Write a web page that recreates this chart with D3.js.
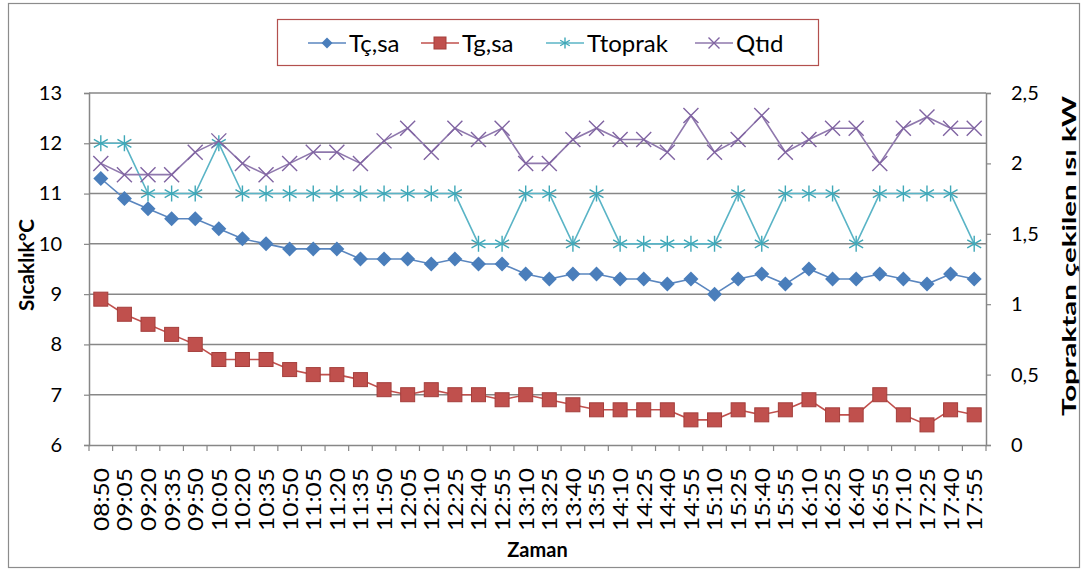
<!DOCTYPE html>
<html>
<head>
<meta charset="utf-8">
<script src="https://cdn.jsdelivr.net/npm/d3@7"></script>
<style>
  body { margin: 0; background: #fff; }
  text { font-family: Lato, "Open Sans", sans-serif; fill: #000; }
</style>
</head>
<body>
<script>
// ===============================
// DATA
// ===============================
const times = ["08:50","09:05","09:20","09:35","09:50","10:05","10:20","10:35","10:50","11:05",
  "11:20","11:35","11:50","12:05","12:10","12:25","12:40","12:55","13:10","13:25",
  "13:40","13:55","14:10","14:25","14:40","14:55","15:10","15:25","15:40","15:55",
  "16:10","16:25","16:40","16:55","17:10","17:25","17:40","17:55"];

const tcsa = [11.3,10.9,10.7,10.5,10.5,10.3,10.1,10.0,9.9,9.9,
  9.9,9.7,9.7,9.7,9.6,9.7,9.6,9.6,9.4,9.3,
  9.4,9.4,9.3,9.3,9.2,9.3,9.0,9.3,9.4,9.2,
  9.5,9.3,9.3,9.4,9.3,9.2,9.4,9.3];

const tgsa = [8.9,8.6,8.4,8.2,8.0,7.7,7.7,7.7,7.5,7.4,
  7.4,7.3,7.1,7.0,7.1,7.0,7.0,6.9,7.0,6.9,
  6.8,6.7,6.7,6.7,6.7,6.5,6.5,6.7,6.6,6.7,
  6.9,6.6,6.6,7.0,6.6,6.4,6.7,6.6];

const ttoprak = [12,12,11,11,11,12,11,11,11,11,
  11,11,11,11,11,11,10,10,11,11,
  10,11,10,10,10,10,10,11,10,11,
  11,11,10,11,11,11,11,10];

const qtid = [2.0,1.92,1.92,1.92,2.08,2.16,2.0,1.92,2.0,2.08,
  2.08,2.0,2.16,2.25,2.08,2.25,2.17,2.25,2.0,2.0,
  2.17,2.25,2.17,2.17,2.08,2.34,2.08,2.17,2.34,2.08,
  2.17,2.25,2.25,2.0,2.25,2.33,2.25,2.25];

const leftTicks = [6, 7, 8, 9, 10, 11, 12, 13];
const rightTicks = [0, 0.5, 1, 1.5, 2, 2.5];

const seriesNames = ["Tç,sa", "Tg,sa", "Ttoprak", "Qtıd"];

// ===============================
// CONFIG
// ===============================
const width = 1086;
const height = 572;
const plot = { left: 89, right: 986, top: 93, bottom: 445 };
const gridColor = "#878787";

const svg = d3.select("body").append("svg")
  .attr("width", width)
  .attr("height", height);

// cadre extérieur
svg.append("rect")
  .attr("x", 8.5).attr("y", 3.5)
  .attr("width", 1071).attr("height", 564)
  .attr("fill", "#fff")
  .attr("stroke", "#8c8c8c")
  .attr("stroke-width", 1.2);

// ===============================
// SCALES
// ===============================
const x = d3.scaleBand()
  .domain(times)
  .range([plot.left, plot.right]);

const yLeft = d3.scaleLinear()
  .domain([6, 13])
  .range([plot.bottom, plot.top]);

const yRight = d3.scaleLinear()
  .domain([0, 2.5])
  .range([plot.bottom, plot.top]);

const cx = d => x(d) + x.bandwidth() / 2;

// ===============================
// GRID + AXES
// ===============================
svg.append("g")
  .selectAll("line")
  .data(leftTicks.slice(1))
  .join("line")
  .attr("x1", plot.left).attr("x2", plot.right)
  .attr("y1", d => yLeft(d)).attr("y2", d => yLeft(d))
  .attr("stroke", gridColor)
  .attr("stroke-width", 1.5);

const axisLeft = svg.append("g")
  .attr("transform", `translate(${plot.left},0)`)
  .call(d3.axisLeft(yLeft).tickValues(leftTicks).tickSize(5).tickPadding(22)
    .tickFormat(d3.format("d")));

const axisRight = svg.append("g")
  .attr("transform", `translate(${plot.right},0)`)
  .call(d3.axisRight(yRight).tickValues(rightTicks).tickSize(5).tickPadding(20)
    .tickFormat(d => String(d).replace(".", ",")));

const axisBottom = svg.append("g")
  .attr("transform", `translate(0,${plot.bottom})`)
  .call(d3.axisBottom(x).tickSize(0).tickFormat(""));

[axisLeft, axisRight, axisBottom].forEach(g => {
  g.select(".domain").attr("stroke", gridColor).attr("stroke-width", 1.5);
  g.selectAll(".tick line").attr("stroke", gridColor).attr("stroke-width", 1.2);
  g.selectAll("text").style("font-size", "20px").attr("fill", "#000");
});

// ticks de catégories (entre les bandes)
svg.append("g")
  .selectAll("line")
  .data(d3.range(times.length + 1))
  .join("line")
  .attr("x1", i => plot.left + i * x.step())
  .attr("x2", i => plot.left + i * x.step())
  .attr("y1", plot.bottom)
  .attr("y2", plot.bottom + 6)
  .attr("stroke", gridColor)
  .attr("stroke-width", 1.2);

// labels horaires verticaux
svg.append("g")
  .selectAll("text")
  .data(times)
  .join("text")
  .attr("transform", d => `translate(${cx(d)},${plot.bottom + 23}) rotate(-90)`)
  .attr("text-anchor", "end")
  .attr("dy", "0.36em")
  .style("font-size", "22px")
  .attr("textLength", 63)
  .attr("lengthAdjust", "spacingAndGlyphs")
  .text(d => d);

// titres d'axes
svg.append("text")
  .attr("transform", "translate(34,265) rotate(-90)")
  .attr("text-anchor", "middle")
  .style("font-size", "20px")
  .style("font-weight", "bold")
  .attr("textLength", 92)
  .attr("lengthAdjust", "spacingAndGlyphs")
  .text("Sıcaklık°C");

svg.append("text")
  .attr("transform", "translate(1076,256) rotate(-90)")
  .attr("text-anchor", "middle")
  .style("font-size", "18px")
  .style("font-weight", "bold")
  .attr("textLength", 320)
  .attr("lengthAdjust", "spacingAndGlyphs")
  .text("Topraktan çekilen ısı kW");

svg.append("text")
  .attr("x", (plot.left + plot.right) / 2)
  .attr("y", 557)
  .attr("text-anchor", "middle")
  .style("font-size", "20px")
  .style("font-weight", "bold")
  .text("Zaman");

// ===============================
// SERIES
// ===============================
const series = [
  { name: seriesNames[0], values: tcsa, y: yLeft, color: "#4a7ebb", line: "#5a86bf", marker: "diamond" },
  { name: seriesNames[1], values: tgsa, y: yLeft, color: "#c0504d", line: "#c0504d", marker: "square" },
  { name: seriesNames[2], values: ttoprak, y: yLeft, color: "#3fa8b8", line: "#5ab4c6", marker: "star" },
  { name: seriesNames[3], values: qtid, y: yRight, color: "#8064a2", line: "#8f78ad", marker: "cross" }
];

function drawMarker(g, type, color, s) {
  if (type === "diamond") {
    g.append("path")
      .attr("d", `M0,${-s}L${s},0L0,${s}L${-s},0Z`)
      .attr("fill", color);
  } else if (type === "square") {
    g.append("rect")
      .attr("x", -s).attr("y", -s)
      .attr("width", 2 * s).attr("height", 2 * s)
      .attr("fill", color)
      .attr("stroke", "#a43e3b")
      .attr("stroke-width", 1);
  } else if (type === "star") {
    g.append("path")
      .attr("d", `M0,${-s}V${s}M${-s * 0.87},${-s * 0.5}L${s * 0.87},${s * 0.5}M${s * 0.87},${-s * 0.5}L${-s * 0.87},${s * 0.5}`)
      .attr("stroke", color)
      .attr("stroke-width", 1.4)
      .attr("fill", "none");
  } else {
    g.append("path")
      .attr("d", `M${-s},${-s}L${s},${s}M${s},${-s}L${-s},${s}`)
      .attr("stroke", color)
      .attr("stroke-width", 1.4)
      .attr("fill", "none");
  }
}

const markerSize = { diamond: 7.5, square: 7, star: 8, cross: 7.5 };

series.forEach(s => {
  const line = d3.line()
    .x((d, i) => cx(times[i]))
    .y(d => s.y(d));

  svg.append("path")
    .datum(s.values)
    .attr("d", line)
    .attr("fill", "none")
    .attr("stroke", s.line)
    .attr("stroke-width", 1.6);

  svg.append("g")
    .selectAll("g")
    .data(s.values)
    .join("g")
    .attr("transform", (d, i) => `translate(${cx(times[i])},${s.y(d)})`)
    .each(function () { drawMarker(d3.select(this), s.marker, s.color, markerSize[s.marker]); });
});

// ===============================
// LEGEND
// ===============================
const legend = svg.append("g");

legend.append("rect")
  .attr("x", 277.5).attr("y", 19.5)
  .attr("width", 541).attr("height", 46)
  .attr("fill", "#fff")
  .attr("stroke", "#b3504e")
  .attr("stroke-width", 1.2);

const legendX = [327, 440, 565, 714];

series.forEach((s, i) => {
  const g = legend.append("g").attr("transform", `translate(${legendX[i]},43)`);
  g.append("line")
    .attr("x1", -19).attr("x2", 19)
    .attr("stroke", s.line).attr("stroke-width", 1.6);
  drawMarker(g, s.marker, s.color, s.marker === "square" ? 6 : 5.5);
  g.append("text")
    .attr("x", 22)
    .attr("dy", "0.36em")
    .style("font-size", "24px")
    .text(s.name);
});
</script>
</body>
</html>
